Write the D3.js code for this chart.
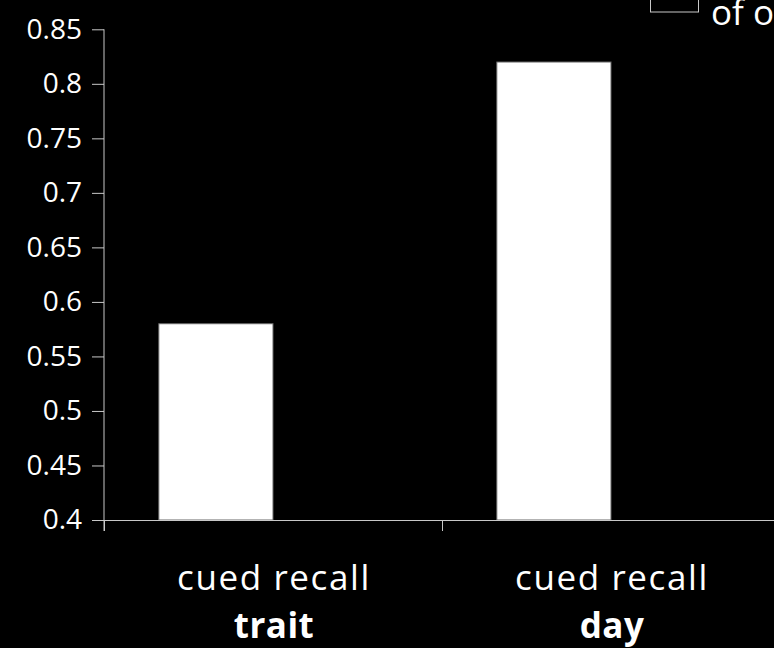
<!DOCTYPE html>
<html>
<head>
<meta charset="utf-8">
<script src="https://cdn.jsdelivr.net/npm/d3@7"></script>
<style>
  html, body { margin: 0; padding: 0; background: #000; overflow: hidden; }
  svg { display: block; font-family: "Open Sans", sans-serif; }
</style>
</head>
<body>
<svg id="chart" width="774" height="648"></svg>
<script>
// Recall rates per condition
const categories = ["trait", "day"];
const categoryPrefix = "cued recall";
const seriesNames = ["recall", "of o"];
const recallValues = [0.58, 0.82];
const yTicks = [0.4, 0.45, 0.5, 0.55, 0.6, 0.65, 0.7, 0.75, 0.8, 0.85];

const svg = d3.select("#chart");
const axisColor = "#c8c8c8";

const plot = { left: 104, right: 780, top: 29.3, bottom: 520 };

const y = d3.scaleLinear().domain([0.4, 0.85]).range([plot.bottom, plot.top]);
const x0 = d3.scaleBand().domain(categories).range([plot.left, plot.right]).padding(0);
const x1 = d3.scaleBand().domain(seriesNames).range([0, x0.bandwidth()])
  .paddingInner(0).paddingOuter(0.48);

// bars
svg.append("g").selectAll("rect")
  .data(categories.map((c, i) => ({ c, v: recallValues[i] })))
  .join("rect")
  .attr("x", d => x0(d.c) + x1(seriesNames[0]))
  .attr("y", d => y(d.v))
  .attr("width", x1.bandwidth())
  .attr("height", d => y(0.4) - y(d.v))
  .attr("fill", "#fff")
  .attr("stroke", "#666")
  .attr("stroke-width", 1);

// y axis
const yAxis = svg.append("g")
  .attr("transform", `translate(${plot.left},0)`)
  .call(d3.axisLeft(y).tickValues(yTicks).tickSize(12).tickPadding(10)
    .tickFormat(d => String(+d.toFixed(2))));
yAxis.select(".domain").remove();
yAxis.append("line")
  .attr("x1", 0).attr("x2", 0)
  .attr("y1", plot.top).attr("y2", plot.bottom + 11)
  .attr("stroke", axisColor);
yAxis.selectAll(".tick line").attr("stroke", axisColor);
yAxis.selectAll(".tick text").attr("fill", "#fff").attr("font-size", 28)
  .attr("font-family", "Open Sans, sans-serif");

// x axis with ticks at category boundaries
const xEdge = d3.scaleLinear().domain([0, categories.length]).range([plot.left, plot.right]);
const xAxis = svg.append("g")
  .attr("transform", `translate(0,${plot.bottom})`)
  .call(d3.axisBottom(xEdge).tickValues(d3.range(categories.length + 1))
    .tickSize(11).tickSizeOuter(0).tickFormat(""));
xAxis.select(".domain").attr("stroke", axisColor);
xAxis.selectAll(".tick line").attr("stroke", axisColor);

// category labels
const lbl = svg.append("g").selectAll("text")
  .data(categories)
  .join("text")
  .attr("text-anchor", "middle")
  .attr("fill", "#fff")
  .attr("font-size", 35)
  .attr("letter-spacing", "1.6px")
  .attr("transform", d => `translate(${x0(d) + x0.bandwidth() / 2 + 1},590)`);
lbl.append("tspan").attr("x", 0).attr("y", 0).text(categoryPrefix);
lbl.append("tspan").attr("x", 0).attr("y", 48).attr("font-weight", "bold")
  .attr("letter-spacing", "0.5px").text(d => d);

// legend entry for the outlined series
const legend = svg.append("g").attr("transform", "translate(650,12)");
legend.append("rect")
  .attr("x", 0.5).attr("y", -20).attr("width", 48).attr("height", 20)
  .attr("fill", "#000").attr("stroke", "#c8c8c8");
legend.append("text")
  .attr("x", 61).attr("y", 13)
  .attr("fill", "#fff").attr("font-size", 35)
  .text(seriesNames[1]);
</script>
</body>
</html>
